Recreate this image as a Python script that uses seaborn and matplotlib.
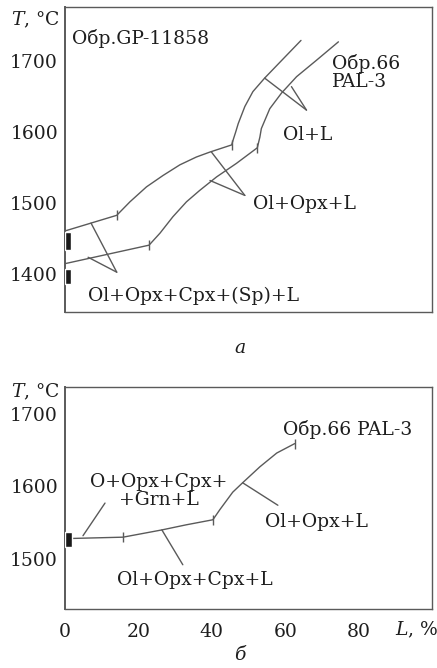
import numpy as np
import pandas as pd
import matplotlib
matplotlib.use("Agg")
import matplotlib.pyplot as plt
import seaborn as sns

sns.set_theme(style="white")
plt.rcParams['font.family'] = ['DejaVu Serif', 'DejaVu Sans']
plt.rcParams['mathtext.fontset'] = 'dejavuserif'

# ---------------- data: panel a ----------------
gp_x = [0, 14.1, 17.7, 22.2, 26.7, 31.3, 35.8, 39.5, 45.4, 46.0, 46.5, 47.2, 49.0, 51.2, 54.4, 58.5, 64.3]
gp_t = [1461, 1483, 1502, 1523, 1539, 1554, 1565, 1572, 1582, 1592, 1600, 1612, 1636, 1657, 1676, 1698, 1729]
gp_pts_x = [14.1, 45.4]
gp_pts_t = [1483, 1582]

pal_x = [0, 22.9, 25.9, 29.4, 33.1, 36.7, 41.3, 46.7, 52.4, 53.1, 53.5, 55.8, 59.0, 63.1, 68.5, 74.5]
pal_t = [1415, 1441, 1458, 1481, 1502, 1518, 1537, 1556, 1578, 1593, 1605, 1633, 1655, 1678, 1701, 1727]
pal_pts_x = [22.9, 52.4]
pal_pts_t = [1441, 1578]

# leader lines (pairs of segments) panel a
lead_a = [
    ([7.1, 14.1], [1472, 1403]), ([6.3, 14.1], [1424, 1403]),
    ([39.9, 49.0], [1572, 1511]), ([39.5, 49.0], [1532, 1511]),
    ([54.4, 65.8], [1676, 1631]), ([61.7, 65.8], [1664, 1631]),
]
bars_a_lo = [1434, 1387]
bars_a_hi = [1459, 1408]

# ---------------- data: panel b ----------------
b_x = [0, 15.8, 26.4, 33.0, 40.3, 42.2, 45.7, 48.4, 53.1, 57.7, 62.6]
b_t = [1528, 1530, 1540, 1547, 1554, 1568, 1592, 1605, 1627, 1646, 1659]
b_pts_x = [15.8, 40.3, 62.6]
b_pts_t = [1530, 1554, 1659]

lead_b = [
    ([4.9, 10.9], [1532, 1577]),
    ([26.4, 32.1], [1540, 1492]),
    ([48.4, 58.0], [1605, 1574]),
]
bars_b_lo = [1517]
bars_b_hi = [1537]

LINE = '#5a5a5a'
TXT = '#1e1e1e'
FS = 13.5

fig = plt.figure(figsize=(4.37, 6.68), dpi=100)
axA = fig.add_axes([65/437, 1-312/668, 367/437, 305/668])
axB = fig.add_axes([65/437, 1-609/668, 367/437, 222/668])

def draw_curve(ax, x, t):
    df = pd.DataFrame({'x': x, 't': t})
    sns.lineplot(data=df, x='x', y='t', ax=ax, sort=False, estimator=None,
                 color=LINE, linewidth=1.0)

def draw_pts(ax, x, t):
    df = pd.DataFrame({'x': x, 't': t})
    sns.scatterplot(data=df, x='x', y='t', ax=ax, marker='|', s=45,
                    color=LINE, linewidth=1.0, zorder=4)

def style_axes(ax, ylim, yticks, xlabels):
    ax.set_xlim(0, 100)
    ax.set_ylim(*ylim)
    ax.set_yticks(yticks)
    ax.set_yticklabels([str(v) for v in yticks], fontsize=FS, color=TXT)
    ax.set_xticks([0, 20, 40, 60, 80, 100])
    if xlabels:
        ax.set_xticklabels(['0', '20', '40', '60', '80', ''], fontsize=FS, color=TXT)
    else:
        ax.set_xticklabels([])
    ax.tick_params(axis='y', direction='in', length=5, width=1, color=LINE, pad=5)
    ax.tick_params(axis='x', direction='in', length=5, width=1, color=LINE, pad=10)
    ax.set_xlabel('')
    ax.set_ylabel('')
    for s in ax.spines.values():
        s.set_visible(True)
        s.set_color(LINE)
        s.set_linewidth(1.0)
    ax.spines['left'].set_linewidth(1.4)

# panel a
draw_curve(axA, gp_x, gp_t)
draw_curve(axA, pal_x, pal_t)
draw_pts(axA, gp_pts_x, gp_pts_t)
draw_pts(axA, pal_pts_x, pal_pts_t)
for lx, lt in lead_a:
    draw_curve(axA, lx, lt)
axA.bar([0]*len(bars_a_lo), np.array(bars_a_hi) - np.array(bars_a_lo),
        bottom=bars_a_lo, width=1.7, align='edge', color='#1a1a1a', zorder=3)
style_axes(axA, (1347, 1776), [1400, 1500, 1600, 1700], False)

axA.text(1.9, 1732, 'Обр.GP-11858', fontsize=FS, color=TXT, ha='left', va='center')
axA.text(72.7, 1684, 'Обр.66\nPAL-3', fontsize=FS, color=TXT, ha='left', va='center',
         linespacing=1.0)
axA.text(59.3, 1596, 'Ol+L', fontsize=FS, color=TXT, ha='left', va='center')
axA.text(51.2, 1499, 'Ol+Opx+L', fontsize=FS, color=TXT, ha='left', va='center')
axA.text(6.3, 1370, 'Ol+Opx+Cpx+(Sp)+L', fontsize=FS, color=TXT, ha='left', va='center')
axA.text(-0.148, 0.957, r'$T$, °C', transform=axA.transAxes, fontsize=FS, color=TXT,
         ha='left', va='center')

# panel b
draw_curve(axB, b_x, b_t)
draw_pts(axB, b_pts_x, b_pts_t)
for lx, lt in lead_b:
    draw_curve(axB, lx, lt)
axB.bar([0]*len(bars_b_lo), np.array(bars_b_hi) - np.array(bars_b_lo),
        bottom=bars_b_lo, width=1.9, align='edge', color='#1a1a1a', zorder=3)
style_axes(axB, (1431, 1737), [1500, 1600, 1700], True)

axB.text(59.3, 1678, 'Обр.66 PAL-3', fontsize=FS, color=TXT, ha='left', va='center')
axB.text(25.6, 1594, 'O+Opx+Cpx+\n+Grn+L', fontsize=FS, color=TXT, ha='center',
         va='center', linespacing=1.0)
axB.text(54.4, 1551, 'Ol+Opx+L', fontsize=FS, color=TXT, ha='left', va='center')
axB.text(14.1, 1471, 'Ol+Opx+Cpx+L', fontsize=FS, color=TXT, ha='left', va='center')
axB.text(-0.148, 0.977, r'$T$, °C', transform=axB.transAxes, fontsize=FS, color=TXT,
         ha='left', va='center')
axB.text(0.899, -0.095, r'$L$, %', transform=axB.transAxes, fontsize=FS, color=TXT,
         ha='left', va='center')

fig.text(240/437, 1-348/668, 'а', fontsize=FS, color=TXT, ha='center', va='center',
         fontstyle='italic')
fig.text(240/437, 1-655/668, 'б', fontsize=FS, color=TXT, ha='center', va='center',
         fontstyle='italic')

fig.savefig('out.png', dpi=100)
